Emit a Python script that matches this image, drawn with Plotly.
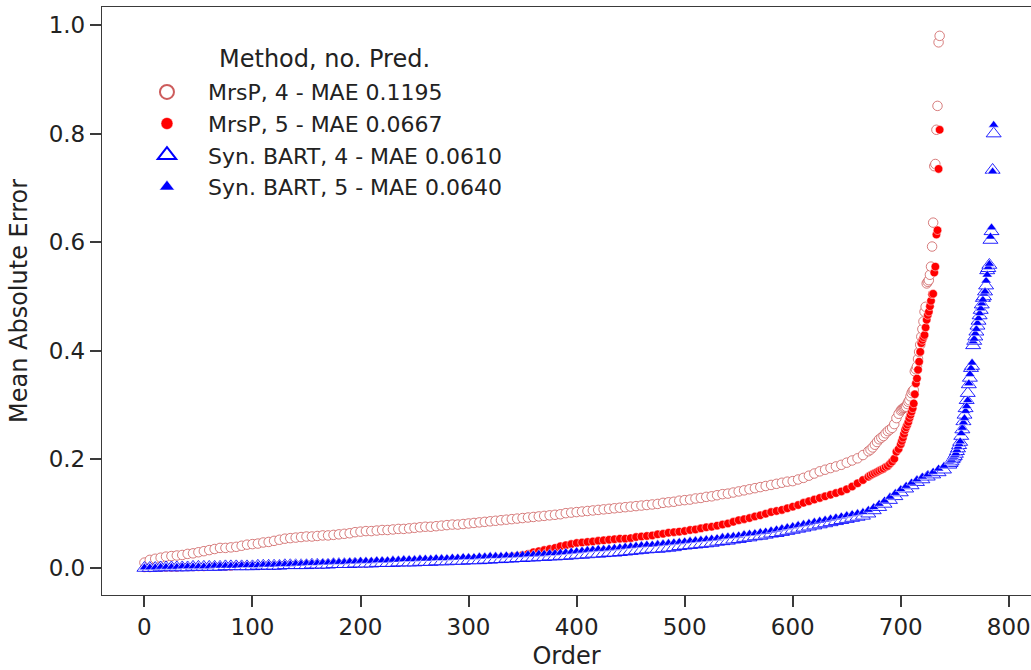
import plotly.graph_objects as go

# ---------------- data ----------------
mrsp4_order = list(range(0, 671, 5)) + list(range(672, 700, 2)) + list(range(700, 737))
mrsp4_mae = [
    0.010, 0.015, 0.017, 0.019, 0.021, 0.022, 0.023, 0.024, 0.026, 0.027,
    0.029, 0.031, 0.033, 0.035, 0.037, 0.037, 0.038, 0.039, 0.041, 0.043,
    0.044, 0.045, 0.047, 0.048, 0.050, 0.052, 0.054, 0.055, 0.056, 0.057,
    0.058, 0.058, 0.059, 0.060, 0.060, 0.061, 0.062, 0.063, 0.064, 0.066,
    0.067, 0.068, 0.068, 0.069, 0.070, 0.070, 0.071, 0.072, 0.072, 0.073,
    0.074, 0.075, 0.076, 0.076, 0.077, 0.078, 0.079, 0.080, 0.080, 0.081,
    0.082, 0.083, 0.084, 0.085, 0.086, 0.087, 0.088, 0.089, 0.090, 0.091,
    0.092, 0.093, 0.094, 0.095, 0.096, 0.097, 0.098, 0.099, 0.101, 0.102,
    0.103, 0.104, 0.105, 0.106, 0.107, 0.108, 0.109, 0.110, 0.111, 0.112,
    0.113, 0.114, 0.115, 0.116, 0.117, 0.118, 0.120, 0.121, 0.122, 0.124,
    0.125, 0.126, 0.128, 0.129, 0.131, 0.132, 0.134, 0.136, 0.137, 0.139,
    0.141, 0.143, 0.145, 0.147, 0.149, 0.151, 0.153, 0.155, 0.157, 0.159,
    0.160, 0.163, 0.166, 0.170, 0.174, 0.178, 0.181, 0.184, 0.187, 0.190,
    0.194, 0.198, 0.202, 0.208, 0.215,
    0.218, 0.222, 0.227, 0.232, 0.237, 0.240, 0.243, 0.248, 0.252, 0.255,
    0.258, 0.265, 0.276, 0.284,
    0.290, 0.292, 0.294, 0.295, 0.296, 0.297, 0.302, 0.306, 0.309, 0.316,
    0.322, 0.326, 0.328, 0.362, 0.366, 0.371, 0.385, 0.398, 0.411, 0.426,
    0.440, 0.454, 0.472, 0.481, 0.524, 0.527, 0.530, 0.540, 0.555, 0.592,
    0.636, 0.740, 0.744, 0.807, 0.851, 0.968, 0.980,
]

mrsp5_order = list(range(0, 671, 5)) + list(range(672, 700, 2)) + list(range(700, 737))
mrsp5_mae = [
    0.000, 0.000, 0.001, 0.001, 0.001, 0.001, 0.001, 0.002, 0.002, 0.002,
    0.002, 0.002, 0.003, 0.003, 0.003, 0.003, 0.003, 0.004, 0.004, 0.004,
    0.004, 0.004, 0.005, 0.005, 0.005, 0.005, 0.006, 0.006, 0.006, 0.006,
    0.007, 0.007, 0.007, 0.007, 0.008, 0.008, 0.008, 0.008, 0.009, 0.009,
    0.009, 0.009, 0.010, 0.010, 0.010, 0.011, 0.011, 0.011, 0.011, 0.012,
    0.012, 0.012, 0.013, 0.013, 0.013, 0.014, 0.014, 0.014, 0.015, 0.015,
    0.016, 0.016, 0.017, 0.017, 0.018, 0.018, 0.019, 0.020, 0.021, 0.022,
    0.024, 0.026, 0.029, 0.031, 0.033, 0.035, 0.037, 0.040, 0.042, 0.044,
    0.046, 0.047, 0.048, 0.049, 0.050, 0.051, 0.052, 0.053, 0.054, 0.054,
    0.055, 0.057, 0.058, 0.059, 0.060, 0.062, 0.063, 0.065, 0.066, 0.067,
    0.068, 0.070, 0.071, 0.073, 0.075, 0.076, 0.078, 0.080, 0.082, 0.085,
    0.088, 0.090, 0.092, 0.095, 0.097, 0.100, 0.103, 0.105, 0.107, 0.110,
    0.113, 0.116, 0.120, 0.123, 0.126, 0.129, 0.132, 0.135, 0.138, 0.141,
    0.145, 0.150, 0.156, 0.162, 0.168,
    0.171, 0.173, 0.175, 0.177, 0.179, 0.181, 0.183, 0.186, 0.188, 0.192,
    0.196, 0.201, 0.214, 0.219,
    0.228, 0.234, 0.240, 0.247, 0.254, 0.259, 0.264, 0.269, 0.276, 0.282,
    0.288, 0.294, 0.303, 0.320, 0.340, 0.349, 0.365, 0.380, 0.398, 0.414,
    0.420, 0.425, 0.429, 0.443, 0.457, 0.466, 0.472, 0.482, 0.492, 0.504,
    0.505, 0.544, 0.555, 0.614, 0.622, 0.735, 0.807,
]

bart4_order = list(range(0, 746, 5)) + list(range(746, 787))
bart4_mae = [
    0.000, 0.000, 0.000, 0.001, 0.001, 0.001, 0.001, 0.001, 0.001, 0.002,
    0.002, 0.002, 0.002, 0.002, 0.002, 0.003, 0.003, 0.003, 0.003, 0.003,
    0.003, 0.004, 0.004, 0.004, 0.004, 0.004, 0.005, 0.005, 0.005, 0.005,
    0.005, 0.006, 0.006, 0.006, 0.006, 0.007, 0.007, 0.007, 0.007, 0.008,
    0.008, 0.008, 0.008, 0.009, 0.009, 0.009, 0.009, 0.010, 0.010, 0.010,
    0.010, 0.011, 0.011, 0.011, 0.012, 0.012, 0.012, 0.013, 0.013, 0.013,
    0.014, 0.014, 0.014, 0.015, 0.015, 0.016, 0.016, 0.017, 0.017, 0.018,
    0.018, 0.019, 0.019, 0.020, 0.020, 0.021, 0.021, 0.022, 0.022, 0.023,
    0.024, 0.024, 0.025, 0.026, 0.026, 0.027, 0.028, 0.028, 0.029, 0.030,
    0.031, 0.032, 0.033, 0.034, 0.035, 0.035, 0.036, 0.037, 0.038, 0.040,
    0.041, 0.042, 0.043, 0.044, 0.045, 0.046, 0.048, 0.049, 0.050, 0.052,
    0.053, 0.055, 0.056, 0.058, 0.059, 0.061, 0.063, 0.064, 0.066, 0.068,
    0.070, 0.072, 0.074, 0.076, 0.078, 0.080, 0.082, 0.084, 0.086, 0.088,
    0.090, 0.092, 0.094, 0.096, 0.100, 0.106, 0.112, 0.118, 0.125, 0.132,
    0.139, 0.146, 0.152, 0.158, 0.163, 0.168, 0.172, 0.176, 0.181, 0.190,
    0.193, 0.196, 0.200, 0.203, 0.206, 0.210, 0.215, 0.220, 0.226, 0.232,
    0.243, 0.255, 0.270, 0.282, 0.294, 0.309, 0.322, 0.338, 0.350, 0.368,
    0.372, 0.410, 0.418, 0.426, 0.435, 0.446, 0.455, 0.465, 0.475, 0.485,
    0.497, 0.500, 0.509, 0.520, 0.548, 0.552, 0.558, 0.604, 0.620, 0.733,
    0.800,
]

bart5_order = list(range(0, 746, 5)) + list(range(746, 787))
bart5_mae = [
    0.001, 0.001, 0.001, 0.002, 0.002, 0.002, 0.002, 0.003, 0.003, 0.003,
    0.003, 0.003, 0.003, 0.004, 0.004, 0.004, 0.004, 0.004, 0.005, 0.005,
    0.005, 0.005, 0.006, 0.006, 0.006, 0.007, 0.007, 0.007, 0.008, 0.008,
    0.009, 0.009, 0.009, 0.010, 0.010, 0.011, 0.011, 0.011, 0.012, 0.012,
    0.013, 0.013, 0.013, 0.014, 0.014, 0.014, 0.015, 0.015, 0.016, 0.016,
    0.016, 0.017, 0.017, 0.017, 0.018, 0.018, 0.018, 0.019, 0.019, 0.020,
    0.020, 0.020, 0.021, 0.021, 0.022, 0.022, 0.022, 0.023, 0.023, 0.024,
    0.024, 0.025, 0.025, 0.026, 0.026, 0.027, 0.027, 0.028, 0.029, 0.030,
    0.031, 0.032, 0.033, 0.034, 0.035, 0.035, 0.036, 0.037, 0.038, 0.039,
    0.040, 0.041, 0.042, 0.043, 0.043, 0.044, 0.045, 0.046, 0.047, 0.048,
    0.049, 0.050, 0.051, 0.052, 0.053, 0.054, 0.055, 0.057, 0.058, 0.059,
    0.060, 0.062, 0.063, 0.064, 0.066, 0.067, 0.069, 0.071, 0.073, 0.075,
    0.077, 0.079, 0.081, 0.083, 0.085, 0.087, 0.089, 0.091, 0.093, 0.095,
    0.097, 0.099, 0.101, 0.103, 0.107, 0.112, 0.118, 0.124, 0.131, 0.138,
    0.145, 0.151, 0.157, 0.163, 0.168, 0.172, 0.177, 0.183, 0.188, 0.195,
    0.197, 0.199, 0.203, 0.205, 0.208, 0.211, 0.217, 0.223, 0.228, 0.233,
    0.248, 0.258, 0.268, 0.276, 0.289, 0.298, 0.309, 0.340, 0.357, 0.368,
    0.378, 0.417, 0.422, 0.432, 0.440, 0.451, 0.460, 0.469, 0.478, 0.487,
    0.494, 0.505, 0.509, 0.529, 0.540, 0.554, 0.560, 0.610, 0.627, 0.730,
    0.816,
]

legend_labels = [
    "MrsP, 4 - MAE 0.1195",
    "MrsP, 5 - MAE 0.0667",
    "Syn. BART, 4 - MAE 0.0610",
    "Syn. BART, 5 - MAE 0.0640",
]
legend_title = "Method, no. Pred."
x_ticks = [0, 100, 200, 300, 400, 500, 600, 700, 800]
y_ticks = [0.0, 0.2, 0.4, 0.6, 0.8, 1.0]

# ---------------- styles ----------------
FONT = "DejaVu Sans"
c_mrsp4 = "rgba(205,92,92,0.8)"
c_mrsp5 = "rgb(255,0,0)"
c_bart = "rgb(0,0,255)"

styles = [
    dict(symbol="circle", size=9.5, color="white", line=dict(color=c_mrsp4, width=1)),
    dict(symbol="circle", size=8.5, color=c_mrsp5, line=dict(color="white", width=0.5)),
    dict(symbol="triangle-up", size=13, color="white", line=dict(color="rgba(0,0,255,0.85)", width=1)),
    dict(symbol="triangle-up", size=9, color=c_bart, line=dict(color="white", width=0.5)),
]
legend_styles = [
    dict(symbol="circle", size=14, color="white", line=dict(color="rgb(205,92,92)", width=2)),
    dict(symbol="circle", size=12, color=c_mrsp5, line=dict(color="white", width=0.5)),
    dict(symbol="triangle-up", size=16, color="white", line=dict(color=c_bart, width=2)),
    dict(symbol="triangle-up", size=13, color=c_bart, line=dict(color="white", width=0.5)),
]

series = [
    (mrsp4_order, mrsp4_mae),
    (mrsp5_order, mrsp5_mae),
    (bart4_order, bart4_mae),
    (bart5_order, bart5_mae),
]

fig = go.Figure()
for (xs, ys), st, lab in zip(series, styles, legend_labels):
    fig.add_trace(go.Scatter(x=xs, y=ys, mode="markers", marker=st,
                             showlegend=False, name=lab, hoverinfo="x+y"))
# legend entries (empty traces carrying the larger legend symbols)
for i, (st, lab) in enumerate(zip(legend_styles, legend_labels)):
    fig.add_trace(go.Scatter(x=[None], y=[None], mode="markers", marker=st,
                             name=lab, legendgroup="g%d" % i, showlegend=True))

axis_common = dict(
    showgrid=False, zeroline=False, showline=True, linecolor="#3a3a3a", linewidth=1.3,
    ticks="outside", ticklen=11, tickwidth=2, tickcolor="#3a3a3a",
    tickfont=dict(family=FONT, size=23, color="#222"),
)

fig.update_layout(
    width=1031, height=670,
    margin=dict(l=102, r=0, t=7, b=75),
    paper_bgcolor="white", plot_bgcolor="white",
    font=dict(family=FONT, color="#222"),
    xaxis=dict(range=[-39.25, 820.54], tickvals=x_ticks, mirror=True,
               title=dict(text="Order", font=dict(family=FONT, size=24, color="#222"), standoff=10),
               **axis_common),
    yaxis=dict(range=[-0.0497, 1.0331], tickvals=y_ticks, tickformat=".1f",
               title=dict(text="Mean Absolute Error", font=dict(family=FONT, size=24, color="#222"), standoff=14),
               **axis_common),
    legend=dict(
        x=0.0258, y=0.891, xanchor="left", yanchor="top",
        bgcolor="rgba(0,0,0,0)", borderwidth=0,
        font=dict(family=FONT, size=22, color="#222"),
        itemwidth=72, tracegroupgap=8, traceorder="normal",
    ),
    annotations=[dict(
        text=legend_title, xref="paper", yref="paper", x=0.239, y=0.9116,
        xanchor="center", yanchor="middle", showarrow=False,
        font=dict(family=FONT, size=24, color="#222"),
    )],
)

# remove the default 8px page margin so the figure fills the window exactly
fig.write_html("out.html",
               config={"displayModeBar": False},
               post_script="document.body.style.margin='0px';document.body.style.overflow='hidden';")
